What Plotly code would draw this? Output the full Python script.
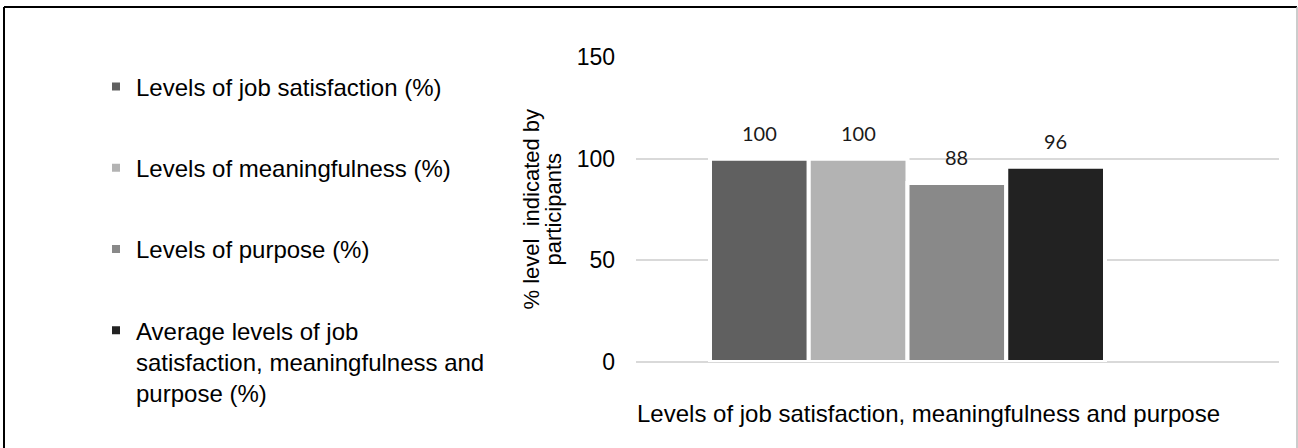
import plotly.graph_objects as go

# ---- data ----
categories = ["Levels"]
series_names = [
    "Levels of job satisfaction (%)",
    "Levels of meaningfulness (%)",
    "Levels of purpose (%)",
    "Average levels of job<br>satisfaction, meaningfulness and<br>purpose (%)",
]
series_values = [100, 100, 88, 96]
series_colors = ["#606060", "#b3b3b3", "#898989", "#222222"]
y_ticks = [0, 50, 100, 150]
y_title_lines = ["% level&nbsp;&nbsp;indicated by", "participants"]
x_title = "Levels of job satisfaction, meaningfulness and purpose"

# ---- layout geometry (pixels) ----
FIG_W, FIG_H = 1298, 448
L, R, T, B = 636, 1279, 57, 362
PW, PH = R - L, B - T


def px(xp):
    return (xp - L) / PW


def py(yp):
    return (B - yp) / PH


fig = go.Figure()

for i, (name, val, col) in enumerate(zip(series_names, series_values, series_colors)):
    fig.add_trace(go.Bar(
        x=categories, y=[val], name=name,
        marker=dict(color=col, line=dict(color="white", width=4)),
        showlegend=False, hoverinfo="skip",
    ))
    # legend-only proxy with small square marker
    fig.add_trace(go.Scatter(
        x=[None], y=[None], mode="markers", name=name,
        marker=dict(symbol="square", size=8, color=col),
        legendgroup=f"g{i}", showlegend=True,
    ))

group_px = 395
bar_px = group_px / len(series_values)
bargap = 1 - group_px / PW
center_off = 907.5 - L
x0 = -center_off / PW
x1 = x0 + 1

annotations = []
for i, val in enumerate(series_values):
    annotations.append(dict(
        x=categories[0], y=val, xref="x", yref="y",
        text=str(val), showarrow=False,
        xshift=(i - (len(series_values) - 1) / 2) * bar_px, yshift=26,
        yanchor="middle", xanchor="center",
        font=dict(family="Lato", size=20, color="#1a1a1a"),
    ))

# y-axis title (two lines)
for xp_, line in zip([531, 553], y_title_lines):
    annotations.append(dict(
        x=px(xp_), y=0.5, xref="paper", yref="paper",
        text=line, showarrow=False, textangle=-90,
        xanchor="center", yanchor="middle",
        font=dict(family="Liberation Sans", size=22, color="#000"),
    ))

# x-axis title
annotations.append(dict(
    x=px(635), y=py(413), xref="paper", yref="paper",
    text=x_title, showarrow=False, xanchor="left", yanchor="middle",
    font=dict(family="Liberation Sans", size=24, color="#000"),
))

shapes = [
    dict(type="line", xref="paper", yref="paper", x0=px(4), x1=px(1297), y0=py(7), y1=py(7),
         line=dict(color="#000", width=2)),
    dict(type="line", xref="paper", yref="paper", x0=px(4), x1=px(4), y0=py(7), y1=py(448),
         line=dict(color="#000", width=2)),
    dict(type="line", xref="paper", yref="paper", x0=px(1297), x1=px(1297), y0=py(7), y1=py(448),
         line=dict(color="#bbbbbb", width=1.5)),
]

fig.update_layout(
    width=FIG_W, height=FIG_H,
    margin=dict(l=L, r=FIG_W - R, t=T, b=FIG_H - B, pad=0),
    paper_bgcolor="white", plot_bgcolor="white",
    barmode="group", bargap=bargap, bargroupgap=0,
    font=dict(family="Liberation Sans", size=23, color="#000"),
    xaxis=dict(range=[x0, x1], showticklabels=False, showgrid=False, zeroline=False,
               showline=False, ticks=""),
    yaxis=dict(range=[0, 150], tickvals=y_ticks, showgrid=True, gridcolor="#d9d9d9",
               gridwidth=1.5, zeroline=True, zerolinecolor="#d9d9d9", zerolinewidth=1.5,
               showline=False, ticks="", ticklabelstandoff=20,
               tickfont=dict(family="Liberation Sans", size=23, color="#000")),
    legend=dict(
        xref="container", yref="container", x=96 / FIG_W, y=1 - 64.5 / FIG_H,
        xanchor="left", yanchor="top", valign="top",
        font=dict(family="Liberation Sans", size=24, color="#000"),
        tracegroupgap=47, itemwidth=30, bgcolor="rgba(0,0,0,0)",
        maxheight=420,
    ),
    annotations=annotations,
    shapes=shapes,
    showlegend=True,
)

fig.write_html("out.html")
